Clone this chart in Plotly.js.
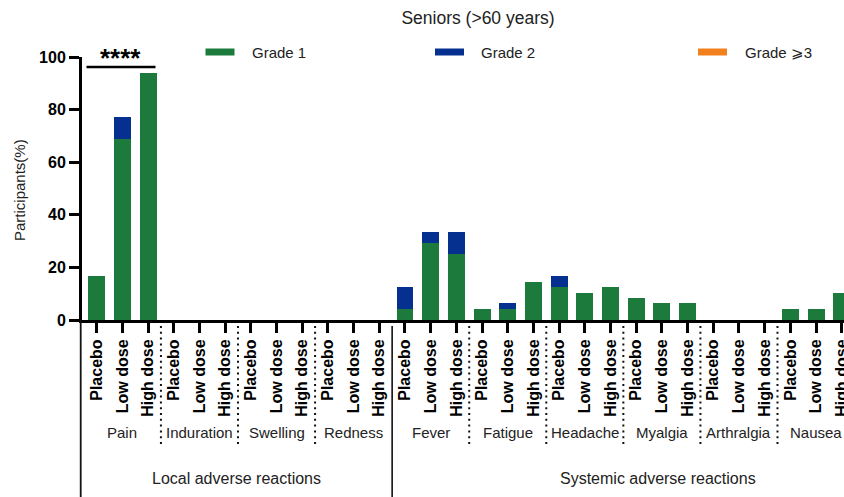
<!DOCTYPE html>
<html>
<head>
<meta charset="utf-8">
<script src="https://cdn.plot.ly/plotly-3.0.1.min.js"></script>
<style>
  html, body { margin: 0; padding: 0; background: #fff; }
  #chart { width: 844px; height: 497px; }
</style>
</head>
<body>
<div id="chart"></div>
<script>
// ---- data ----
const groups = ['Pain', 'Induration', 'Swelling', 'Redness', 'Fever', 'Fatigue', 'Headache', 'Myalgia', 'Arthralgia', 'Nausea'];
const doses = ['Placebo', 'Low dose', 'High dose'];
const sections = ['Local adverse reactions', 'Systemic adverse reactions'];
const grade1 = [16.7, 68.8, 93.8,  0, 0, 0,  0, 0, 0,  0, 0, 0,
                4.2, 29.2, 25.0,  4.2, 4.2, 14.6,  12.5, 10.4, 12.5,  8.3, 6.3, 6.3,  0, 0, 0,  4.2, 4.2, 10.4];
const grade2 = [0, 8.3, 0,  0, 0, 0,  0, 0, 0,  0, 0, 0,
                8.3, 4.2, 8.3,  0, 2.1, 0,  4.2, 0, 0,  0, 0, 0,  0, 0, 0,  0, 0, 0];
const grade3 = [0, 0, 0,  0, 0, 0,  0, 0, 0,  0, 0, 0,
                0, 0, 0,  0, 0, 0,  0, 0, 0,  0, 0, 0,  0, 0, 0,  0, 0, 0];
const seriesNames = ['Grade 1', 'Grade 2', 'Grade \u2A7E3'];
const yTicks = [0, 20, 40, 60, 80, 100];
const sigLabel = '****';

// ---- layout helpers ----
const W = 844, H = 497;
const M = {l: 82, r: 0, t: 57, b: 177};
const PW = W - M.l - M.r, PH = H - M.t - M.b;
const px = x => (x - M.l) / PW;          // pixel x -> paper x
const py = y => (H - M.b - y) / PH;      // pixel y -> paper y

const colors = ['#1b7a3c', '#05308f', '#f2801f'];
const FONT = 'Liberation Sans, Arial, sans-serif';
const NARROW = 'Liberation Sans Narrow, Arial Narrow, Liberation Sans, Arial, sans-serif';

const xIdx = [], tickText = [];
groups.forEach((g, gi) => doses.forEach((d, di) => { xIdx.push(gi * 3 + di); tickText.push(d); }));

const traces = [grade1, grade2, grade3].map((vals, i) => ({
  type: 'bar', x: xIdx, y: vals, name: seriesNames[i],
  marker: {color: colors[i], line: {width: 0}}, showlegend: false,
  hovertemplate: '%{y}%<extra>' + seriesNames[i] + '</extra>'
}));

const shapes = [];
const annotations = [];

// group labels and separators
groups.forEach((g, gi) => {
  annotations.push({xref: 'x', yref: 'paper', x: gi * 3 + 1, y: py(432.5), text: g,
    showarrow: false, xanchor: 'center', yanchor: 'middle', font: {family: NARROW, size: 15, color: '#222'}});
  if (gi > 0) {
    const bx = gi * 3 - 0.5;
    if (gi === 4) {
      shapes.push({type: 'line', xref: 'x', yref: 'paper', x0: bx, x1: bx, y0: py(326), y1: py(497),
        line: {color: '#111', width: 1.6}});
    } else {
      shapes.push({type: 'line', xref: 'x', yref: 'paper', x0: bx, x1: bx, y0: py(326), y1: py(445),
        line: {color: '#111', width: 2, dash: '2px,3.8px'}});
    }
  }
});
// y axis extension below
shapes.push({type: 'line', xref: 'paper', yref: 'paper', x0: px(80.7), x1: px(80.7), y0: 0, y1: py(497),
  line: {color: '#111', width: 1.8}});

// section labels
annotations.push({xref: 'paper', yref: 'paper', x: px(236.5), y: py(478), text: sections[0], showarrow: false,
  xanchor: 'center', yanchor: 'middle', font: {family: FONT, size: 16, color: '#222'}});
annotations.push({xref: 'paper', yref: 'paper', x: px(658), y: py(478), text: sections[1], showarrow: false,
  xanchor: 'center', yanchor: 'middle', font: {family: FONT, size: 16, color: '#222'}});

// significance bar
shapes.push({type: 'line', xref: 'paper', yref: 'paper', x0: px(86.5), x1: px(155.5), y0: py(67), y1: py(67),
  line: {color: '#000', width: 2.5}});
annotations.push({xref: 'paper', yref: 'paper', x: px(120), y: py(58), text: '<b>' + sigLabel + '</b>', showarrow: false,
  xanchor: 'center', yanchor: 'middle', font: {family: FONT, size: 26, color: '#000'}});

// y axis title
annotations.push({xref: 'paper', yref: 'paper', x: px(19), y: py(190), text: 'Participants(%)', showarrow: false,
  textangle: -90, xanchor: 'center', yanchor: 'middle', font: {family: FONT, size: 15, color: '#222'}});

// manual legend
const legX = [205.5, 435, 698];
seriesNames.forEach((n, i) => {
  shapes.push({type: 'rect', xref: 'paper', yref: 'paper', x0: px(legX[i]), x1: px(legX[i] + 29),
    y0: py(48.5), y1: py(55.5), fillcolor: colors[i], line: {width: 0}});
  annotations.push({xref: 'paper', yref: 'paper', x: px(legX[i] + 44.5), y: py(52.5), text: n, showarrow: false,
    xanchor: 'left', yanchor: 'middle', font: {family: FONT, size: 15, color: '#222'}});
});

const layout = {
  width: W, height: H,
  margin: M,
  paper_bgcolor: '#fff', plot_bgcolor: '#fff',
  barmode: 'stack', bargap: 0.34,
  showlegend: false,
  font: {family: FONT, color: '#000'},
  title: {text: 'Seniors (>60 years)', x: 478 / W, xref: 'container', xanchor: 'center',
    y: 1 - 18 / H, yref: 'container', yanchor: 'middle', font: {family: FONT, size: 17.5, color: '#222'}},
  xaxis: {
    range: [(M.l - 96.7) / 25.69, (W - 96.7) / 25.69],
    tickmode: 'array', tickvals: xIdx, ticktext: tickText, tickangle: -90,
    ticks: 'outside', ticklen: 10, tickwidth: 3, tickcolor: '#000',
    ticklabeloverflow: 'allow',
    tickfont: {family: FONT, size: 16, color: '#000', weight: 'bold'},
    showline: true, linewidth: 3, linecolor: '#000', showgrid: false, zeroline: false,
    fixedrange: true
  },
  yaxis: {
    range: [0, 100], tickmode: 'array', tickvals: yTicks,
    ticks: 'outside', ticklen: 10, tickwidth: 3, tickcolor: '#000',
    tickfont: {family: FONT, size: 16, color: '#000', weight: 'bold'},
    showline: true, linewidth: 3, linecolor: '#000', showgrid: false, zeroline: false,
    fixedrange: true
  },
  shapes: shapes,
  annotations: annotations
};

Plotly.newPlot('chart', traces, layout, {displayModeBar: false, staticPlot: true});
</script>
</body>
</html>
